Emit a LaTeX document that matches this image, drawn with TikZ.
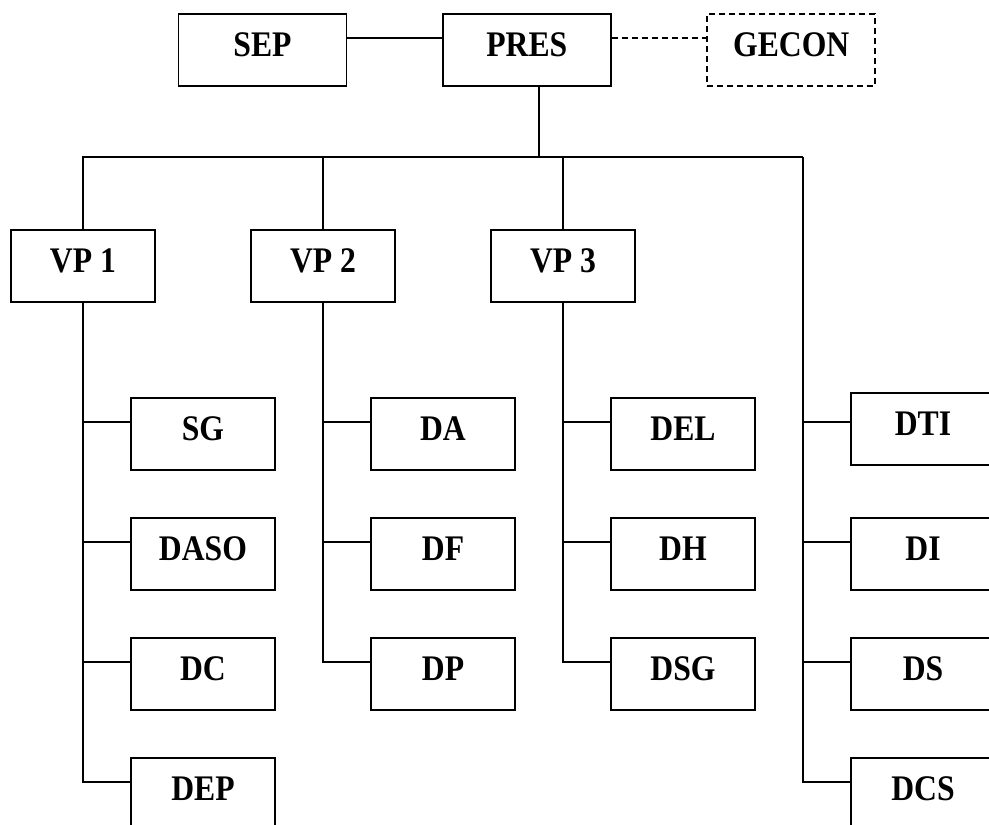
\documentclass[tikz,border=0pt]{standalone}
\usepackage{fontspec}
\setmainfont{Liberation Serif}
\newfontfamily\boxfont[FakeStretch=0.88]{Liberation Serif}
\usetikzlibrary{calc}
\begin{document}
\begin{tikzpicture}[x=1pt,y=-1pt,
  box/.style={draw, line width=1.8pt, rectangle, minimum width=144pt, minimum height=72pt,
    inner sep=0pt, font=\boxfont\fontsize{36}{40}\selectfont\bfseries, text height=22pt, text depth=10pt},
  topbox/.style={box, minimum width=168pt},
  conn/.style={line width=1.8pt},
  dashconn/.style={conn, dash pattern=on 6pt off 4pt}]
\useasboundingbox (0,0) rectangle (989,825);
% top row
\node[topbox] (SEP) at (262.5,50) {SEP};
\node[topbox] (PRES) at (526.8,50) {PRES};
\node[topbox, dash pattern=on 6pt off 4pt] (GECON) at (791.2,50) {GECON};
% vice presidents
\node[box] (VP1) at (82.9,266) {VP 1};
\node[box] (VP2) at (323,266) {VP 2};
\node[box] (VP3) at (563,266) {VP 3};
% column 1
\node[box] (SG) at (203,434) {SG};
\node[box] (DASO) at (203,554) {DASO};
\node[box] (DC) at (203,674) {DC};
\node[box] (DEP) at (203,794) {DEP};
% column 2
\node[box] (DA) at (443,434) {DA};
\node[box] (DF) at (443,554) {DF};
\node[box] (DP) at (443,674) {DP};
% column 3
\node[box] (DEL) at (683,434) {DEL};
\node[box] (DH) at (683,554) {DH};
\node[box] (DSG) at (683,674) {DSG};
% column 4
\node[box] (DTI) at (923,429) {DTI};
\node[box] (DI) at (923,554) {DI};
\node[box] (DS) at (923,674) {DS};
\node[box] (DCS) at (923,794) {DCS};
% helper coordinates
\coordinate (bus) at (0,157);
\coordinate (rtop) at (802.7,157);
\coordinate (presout) at ([xshift=12pt]PRES.south);
\coordinate (r1) at ([yshift=12pt]SG.west);
\coordinate (r2) at ([yshift=12pt]DASO.west);
\coordinate (r3) at ([yshift=12pt]DC.west);
\coordinate (r4) at ([yshift=12pt]DEP.west);
% top connectors
\draw[conn] ([yshift=12pt]SEP.east) -- ([yshift=12pt]PRES.west);
\draw[dashconn] ([yshift=12pt]PRES.east) -- ([yshift=12pt]GECON.west);
\draw[conn] (presout) -- (presout |- bus);
\draw[conn] (VP1.north) -- (VP1.north |- bus) -- (rtop);
\draw[conn] (VP2.north) -- (VP2.north |- bus);
\draw[conn] (VP3.north) -- (VP3.north |- bus);
% column 1
\draw[conn] (VP1.south) |- (r4);
\draw[conn] (r1) -- (r1 -| VP1.south);
\draw[conn] (r2) -- (r2 -| VP1.south);
\draw[conn] (r3) -- (r3 -| VP1.south);
% column 2
\draw[conn] (VP2.south) |- (DP.west |- r3);
\draw[conn] (DA.west |- r1) -- (VP2.south |- r1);
\draw[conn] (DF.west |- r2) -- (VP2.south |- r2);
% column 3
\draw[conn] (VP3.south) |- (DSG.west |- r3);
\draw[conn] (DEL.west |- r1) -- (VP3.south |- r1);
\draw[conn] (DH.west |- r2) -- (VP3.south |- r2);
% column 4
\draw[conn] (rtop) |- (DCS.west |- r4);
\draw[conn] (DTI.west |- r1) -- (rtop |- r1);
\draw[conn] (DI.west |- r2) -- (rtop |- r2);
\draw[conn] (DS.west |- r3) -- (rtop |- r3);
\end{tikzpicture}
\end{document}
